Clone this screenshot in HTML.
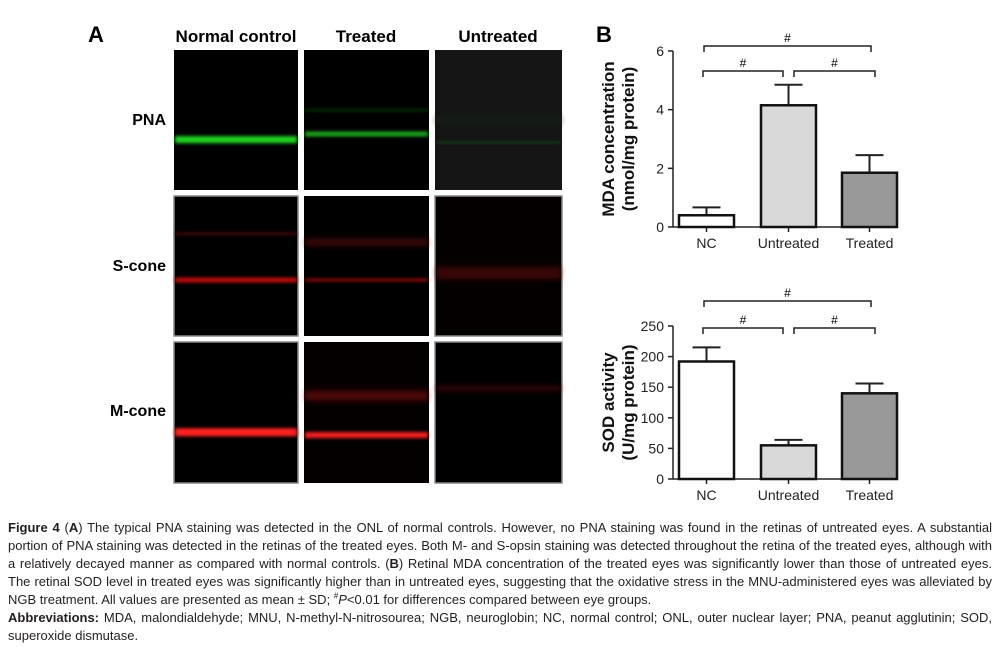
<!DOCTYPE html>
<html><head><meta charset="utf-8"><style>
html,body{margin:0;padding:0;background:#fff;width:1000px;height:647px;overflow:hidden;font-family:"Liberation Sans",Arial,sans-serif}
#fig{position:absolute;left:0;top:0}
#cap{position:absolute;left:8px;top:519px;width:984px;font-size:13px;line-height:18px;color:#231f20;text-align:justify}
#cap p{margin:0}
</style></head><body>
<svg id="fig" width="1000" height="515">
<defs>
<filter id="bl" x="-10%" y="-100%" width="120%" height="300%"><feGaussianBlur stdDeviation="1.6"/></filter>
<filter id="bl2" x="-10%" y="-100%" width="120%" height="300%"><feGaussianBlur stdDeviation="3"/></filter>
</defs>
<text x="88" y="42" font-size="22" font-weight="bold">A</text>
<text x="236" y="42" font-size="17" font-weight="bold" text-anchor="middle">Normal control</text>
<text x="366" y="42" font-size="17" font-weight="bold" text-anchor="middle">Treated</text>
<text x="498" y="42" font-size="17" font-weight="bold" text-anchor="middle">Untreated</text>
<text x="166" y="125" font-size="16" font-weight="bold" text-anchor="end">PNA</text>
<text x="166" y="271" font-size="16" font-weight="bold" text-anchor="end">S-cone</text>
<text x="166" y="416" font-size="16" font-weight="bold" text-anchor="end">M-cone</text>
<g id="micro"></g>
<text x="596" y="42" font-size="22" font-weight="bold">B</text>
<g id="c1"></g>
<g id="c2"></g>
</svg>
<div id="cap">
<p><b>Figure 4</b> (<b>A</b>) The typical PNA staining was detected in the ONL of normal controls. However, no PNA staining was found in the retinas of untreated eyes. A substantial portion of PNA staining was detected in the retinas of the treated eyes. Both M- and S-opsin staining was detected throughout the retina of the treated eyes, although with a relatively decayed manner as compared with normal controls. (<b>B</b>) Retinal MDA concentration of the treated eyes was significantly lower than those of untreated eyes. The retinal SOD level in treated eyes was significantly higher than in untreated eyes, suggesting that the oxidative stress in the MNU-administered eyes was alleviated by NGB treatment. All values are presented as mean ± SD; <sup style="font-size:8px;line-height:0">#</sup><i>P</i>&lt;0.01 for differences compared between eye groups.</p>
<p><b>Abbreviations:</b> MDA, malondialdehyde; MNU, N-methyl-N-nitrosourea; NGB, neuroglobin; NC, normal control; ONL, outer nuclear layer; PNA, peanut agglutinin; SOD, superoxide dismutase.</p>
</div>
<script>
const NS="http://www.w3.org/2000/svg";
function mk(p,t,a){const e=document.createElementNS(NS,t);for(const k in a)e.setAttribute(k,a[k]);p.appendChild(e);return e;}
const mg=document.getElementById('micro');
const cols=[[174,124],[304,125],[435,127]];
const rows=[[50,140],[196,140],[342,141]];
const bands=[
 [[[0.64,'#22dd22',0.95,7,'bl']],[[0.6,'#22cc22',0.8,5,'bl'],[0.43,'#117711',0.5,2,'bl']],[[0.66,'#1a6a1a',0.7,1.5,'bl'],[0.5,'#152515',0.6,8,'bl2']]],
 [[[0.6,'#e01010',0.85,5,'bl'],[0.27,'#801010',0.5,3,'bl']],[[0.6,'#d01010',0.7,3,'bl'],[0.33,'#701010',0.5,8,'bl2']],[[0.55,'#701010',0.5,12,'bl2']]],
 [[[0.64,'#ff2020',1,8,'bl']],[[0.66,'#ff2020',0.95,6,'bl'],[0.38,'#801010',0.6,10,'bl2']],[[0.33,'#701010',0.5,5,'bl2']]]
];
const bg=[['#000','#000','#151515'],['#000','#000','#050000'],['#000','#050000','#000']];
rows.forEach((r,ri)=>cols.forEach((c,ci)=>{
 const g=mk(mg,'g',{});
 
 
 mk(g,'rect',{x:c[0],y:r[0],width:c[1],height:r[1],fill:bg[ri][ci],stroke:ri>0&&ci!=1?'#888':'none','stroke-width':1.5});
 bands[ri][ci].forEach(b=>{const y=r[0]+b[0]*r[1];
  mk(g,'rect',{x:c[0]+1,y:y-b[3]/2,width:c[1]-2,height:b[3],fill:b[1],opacity:b[2],filter:'url(#'+b[4]+')'});});
}));
const cats=["NC","Untreated","Treated"];
const mdaVals=[0.4,4.15,1.85];
const mdaErr=[0.27,0.7,0.6];
const mdaTicks=[0,2,4,6];
const sodVals=[192,55,140];
const sodErr=[23,9,16];
const sodTicks=[0,50,100,150,200,250];
const fills=['#fff','#d9d9d9','#999'];
function chart(id,vals,errs,ticks,y0,y1,title1,title2,brTop,brLow){
 const g=document.getElementById(id);
 const max=ticks[ticks.length-1];
 const Y=v=>y0-(v/max)*(y0-y1);
 const ax=673, barX=[679,761,842], bw=55;
 mk(g,'line',{x1:ax,y1:y1,x2:ax,y2:y0,stroke:'#222','stroke-width':1.5});
 mk(g,'line',{x1:ax,y1:y0,x2:898,y2:y0,stroke:'#222','stroke-width':1.5});
 ticks.forEach(t=>{mk(g,'line',{x1:ax-5,y1:Y(t),x2:ax,y2:Y(t),stroke:'#222','stroke-width':1.5});
  const tx=mk(g,'text',{x:ax-9,y:Y(t)+5,'font-size':14,'text-anchor':'end',fill:'#222'});tx.textContent=t;
  
  });
 vals.forEach((v,i)=>{
  const cx=barX[i]+bw/2;
  mk(g,'line',{x1:cx,y1:y0,x2:cx,y2:y0+5,stroke:'#222','stroke-width':1.5});
  const e=Y(v+errs[i]);
  mk(g,'line',{x1:cx,y1:Y(v),x2:cx,y2:e,stroke:'#222','stroke-width':2});
  mk(g,'line',{x1:cx-14,y1:e,x2:cx+14,y2:e,stroke:'#222','stroke-width':2});
  const b=mk(g,'rect',{x:barX[i],y:Y(v),width:bw,height:y0-Y(v),fill:fills[i],stroke:'#111','stroke-width':2.5});
  
  
  const l=mk(g,'text',{x:cx,y:y0+21,'font-size':14,'text-anchor':'middle',fill:'#222'});l.textContent=cats[i];
  
  
 });
 const br=(x1,x2,y)=>{mk(g,'path',{d:`M${x1} ${y+6}V${y}H${x2}V${y+6}`,fill:'none',stroke:'#222','stroke-width':1.5});
  const t=mk(g,'text',{x:(x1+x2)/2,y:y-4,'font-size':12,'text-anchor':'middle'});t.textContent='#';
  
  };
 br(704,871,brTop);br(703,783,brLow);br(794,875,brLow);
 const mid=(y0+y1)/2;
 const t=mk(g,'text',{transform:`translate(614 ${mid}) rotate(-90)`,'font-size':17,'font-weight':'bold','text-anchor':'middle',fill:'#111'});
 
 
 mk(t,'tspan',{x:0,y:0}).textContent=title1;
 mk(t,'tspan',{x:0,y:20}).textContent=title2;
}
chart('c1',mdaVals,mdaErr,mdaTicks,227,51,'MDA concentration','(nmol/mg protein)',46,71);
chart('c2',sodVals,sodErr,sodTicks,479,326,'SOD activity','(U/mg protein)',301,328);
</script>
</body></html>
